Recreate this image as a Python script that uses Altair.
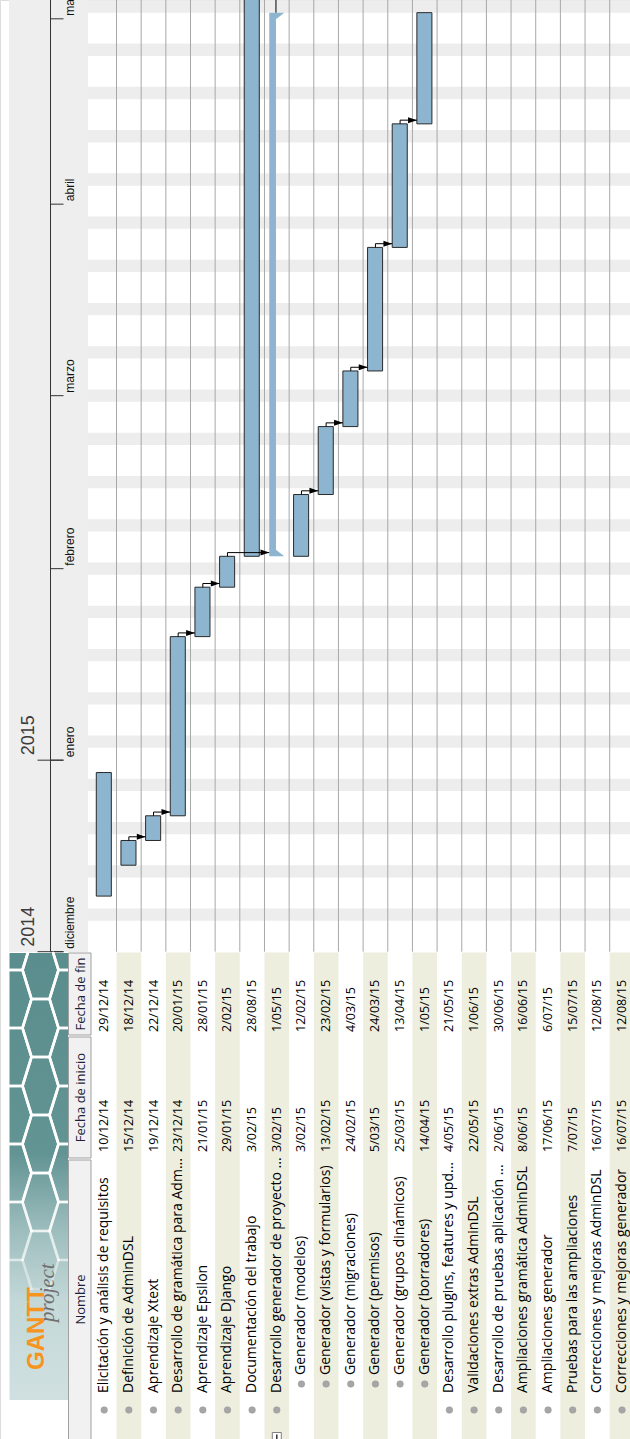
import altair as alt
import pandas as pd
from datetime import datetime

# ---------------- data ----------------
task_names = [
    "Elicitación y análisis de requisitos",
    "Definición de AdminDSL",
    "Aprendizaje Xtext",
    "Desarrollo de gramática para Adm...",
    "Aprendizaje Epsilon",
    "Aprendizaje Django",
    "Documentación del trabajo",
    "Desarrollo generador de proyecto ...",
    "Generador (modelos)",
    "Generador (vistas y formularios)",
    "Generador (migraciones)",
    "Generador (permisos)",
    "Generador (grupos dinámicos)",
    "Generador (borradores)",
    "Desarrollo plugins, features y upd...",
    "Validaciones extras AdminDSL",
    "Desarrollo de pruebas aplicación ...",
    "Ampliaciones gramática AdminDSL",
    "Ampliaciones generador",
    "Pruebas para las ampliaciones",
    "Correcciones y mejoras AdminDSL",
    "Correcciones y mejoras generador",
]
start_dates = ["10/12/14", "15/12/14", "19/12/14", "23/12/14", "21/01/15", "29/01/15",
               "3/02/15", "3/02/15", "3/02/15", "13/02/15", "24/02/15", "5/03/15",
               "25/03/15", "14/04/15", "4/05/15", "22/05/15", "2/06/15", "8/06/15",
               "17/06/15", "7/07/15", "16/07/15", "16/07/15"]
end_dates = ["29/12/14", "18/12/14", "22/12/14", "20/01/15", "28/01/15", "2/02/15",
             "28/08/15", "1/05/15", "12/02/15", "23/02/15", "4/03/15", "24/03/15",
             "13/04/15", "1/05/15", "21/05/15", "1/06/15", "30/06/15", "16/06/15",
             "6/07/15", "15/07/15", "12/08/15", "12/08/15"]
task_levels = [0, 0, 0, 0, 0, 0, 0, 0, 1, 1, 1, 1, 1, 1, 0, 0, 0, 0, 0, 0, 0, 0]
summary_tasks = [8]
dependencies = [(2, 3), (3, 4), (4, 5), (5, 6), (6, 8), (9, 10), (10, 11),
                (11, 12), (12, 13), (13, 14), (8, 15)]
month_labels = ["diciembre", "enero", "febrero", "marzo", "abril", "mayo"]
month_firsts = ["1/12/14", "1/01/15", "1/02/15", "1/03/15", "1/04/15", "1/05/15"]
year_labels = ["2014", "2015"]
year_firsts = ["1/12/14", "1/01/15"]
header_labels = ["Nombre", "Fecha de inicio", "Fecha de fin"]

# ---------------- layout constants ----------------
W, H = 630, 1439
ROW_X0, ROW_W = 91.85, 24.66          # first task column, column width (px)
Y_DEC1, PX_DAY = 951.7, 6.178         # 1 Dec 2014 position, px per day
ORIGIN = datetime(2014, 12, 1)
XDOM = [-ROW_X0 / ROW_W, (W - ROW_X0) / ROW_W]
YDOM = [(Y_DEC1 - H) / PX_DAY, Y_DEC1 / PX_DAY]
xs = alt.Scale(domain=XDOM, nice=False, zero=False)
ys = alt.Scale(domain=YDOM, nice=False, zero=False)

BAR = "#8db5cf"
FONT = "Open Sans"


def day(s):
    return (datetime.strptime(s, "%d/%m/%y") - ORIGIN).days


rows = pd.DataFrame({"name": task_names, "start": start_dates, "end": end_dates,
                     "level": task_levels})
rows["idx"] = range(1, len(rows) + 1)
rows["u0"] = rows["idx"] - 1
rows["uc"] = rows["u0"] + 0.5
rows["d0"] = rows["start"].map(day)
rows["d1"] = rows["end"].map(day) + 1
rows["summary"] = rows["idx"].isin(summary_tasks)

# only bars that begin inside the visible time window
bars = rows[(~rows["summary"]) & (rows["d0"] < YDOM[1] - 0.3)].copy()
bars["bx"] = bars["u0"] + 0.18
bars["bx2"] = bars["u0"] + 0.79

summ = rows[rows["summary"]].copy()
summ["bx"] = summ["u0"] + 0.195
summ["bx2"] = summ["u0"] + 0.466

# dependency connectors
lines = []
heads = []
r = rows.set_index("idx")
for k, (s, t) in enumerate(dependencies):
    src, tgt = r.loc[s], r.loc[t]
    sx = src["u0"] + 0.466 if src["summary"] else src["uc"]
    tx = tgt["u0"] + (0.195 if tgt["summary"] else 0.18)
    yh = tgt["d0"] + 0.6
    lines += [{"dep": k, "seq": 0, "x": sx, "y": src["d1"]},
              {"dep": k, "seq": 1, "x": sx, "y": yh},
              {"dep": k, "seq": 2, "x": tx, "y": yh}]
    if yh < YDOM[1]:
        heads.append({"x": tx, "y": yh})
lines = pd.DataFrame(lines)
heads = pd.DataFrame(heads)

weekends = pd.DataFrame({"d": [(d - pd.Timestamp(ORIGIN)).days for d in
                               pd.date_range("2014-12-06", "2015-05-02", freq="7D")]})
weekends["d2"] = weekends["d"] + 2

grid = pd.DataFrame({"u": list(range(1, len(task_names)))})
months = pd.DataFrame({"label": month_labels, "d": [day(s) for s in month_firsts]})
months["dl"] = months["d"] + 3 / PX_DAY
years = pd.DataFrame({"label": year_labels, "d": [day(s) for s in year_firsts]})
years["dl"] = years["d"] + 5 / PX_DAY

beige = rows[rows["idx"] % 2 == 0]
one = pd.DataFrame({"a": [0]})

# ---- decorative honeycomb of the logo (pixel geometry -> chart units) ----
LX0, LX1, LY0, LY1 = 9.5, 68.0, 953.0, 1400.0


def clip_seg(x0, y0, x1, y1):
    t0, t1 = 0.0, 1.0
    dx, dy = x1 - x0, y1 - y0
    for p, q in ((-dx, x0 - LX0), (dx, LX1 - x0), (-dy, y0 - LY0), (dy, LY1 - y0)):
        if p == 0:
            if q < 0:
                return None
        else:
            t = q / p
            if p < 0:
                t0 = max(t0, t)
            else:
                t1 = min(t1, t)
    if t0 >= t1:
        return None
    return (x0 + t0 * dx, y0 + t0 * dy, x0 + t1 * dx, y0 + t1 * dy)


hex_a, hex_b = 18.0, 29.0
segs = []
for i in range(-1, 5):
    for j in range(-1, 10):
        cx = LX0 + 4 + 1.5 * hex_a * i
        cy = LY0 - 12 + 2 * hex_b * j + (hex_b if i % 2 else 0)
        pts = [(cx + hex_a, cy), (cx + hex_a / 2, cy + hex_b), (cx - hex_a / 2, cy + hex_b),
               (cx - hex_a, cy), (cx - hex_a / 2, cy - hex_b), (cx + hex_a / 2, cy - hex_b)]
        for m in range(6):
            p0, p1 = pts[m], pts[(m + 1) % 6]
            c = clip_seg(p0[0], p0[1], p1[0], p1[1])
            if c is None:
                continue
            ym = (c[1] + c[3]) / 2
            op = 1.0 if ym < 1170 else max(0.0, 1.0 - (ym - 1170) / 140)
            if op <= 0:
                continue
            segs.append({"x": (c[0] - ROW_X0) / ROW_W, "x2": (c[2] - ROW_X0) / ROW_W,
                         "y": (Y_DEC1 - c[1]) / PX_DAY, "y2": (Y_DEC1 - c[3]) / PX_DAY,
                         "op": op})
segs = pd.DataFrame(segs)

X = lambda f: alt.X(f, type="quantitative", scale=xs, axis=None)
Y = lambda f: alt.Y(f, type="quantitative", scale=ys, axis=None)

layers = []

# timeline header background
layers.append(alt.Chart(one).mark_rect(color="#eeeeee").encode(
    x=alt.value(9), x2=alt.value(88), y=alt.value(0), y2=alt.value(952)))
# weekend bands
layers.append(alt.Chart(weekends).mark_rect(color="#ededed", clip=True).encode(
    x=alt.value(88), x2=alt.value(W), y=Y("d"), y2="d2"))
# column grid lines
layers.append(alt.Chart(grid).mark_rule(color="#a8a8a8", strokeWidth=1).encode(
    x=X("u"), y=alt.value(0), y2=alt.value(Y_DEC1)))
# task bars
layers.append(alt.Chart(bars).mark_rect(fill=BAR, stroke="#2a2a2a", strokeWidth=1,
                                        clip=True).encode(
    x=X("bx"), x2="bx2", y=Y("d0"), y2="d1"))
# summary task
layers.append(alt.Chart(summ).mark_rect(fill=BAR, clip=True).encode(
    x=X("bx"), x2="bx2", y=Y("d0"), y2="d1"))
layers.append(alt.Chart(summ).mark_point(shape="M0,0L0,-0.8L1,0Z", size=276, filled=True,
                                         color=BAR, opacity=1, strokeWidth=0,
                                         clip=True).encode(
    x=X("bx2"), y=Y("d0")))
layers.append(alt.Chart(summ).mark_point(shape="M0,0L0,0.8L1,0Z", size=276, filled=True,
                                         color=BAR, opacity=1, strokeWidth=0,
                                         clip=True).encode(
    x=X("bx2"), y=Y("d1")))
# dependencies
layers.append(alt.Chart(lines).mark_line(color="#000000", strokeWidth=1, clip=True).encode(
    x=X("x"), y=Y("y"), detail="dep:N", order="seq:Q"))
layers.append(alt.Chart(heads).mark_point(shape="M-2.2,-0.75L0,0L-2.2,0.75Z", size=64,
                                          filled=True, color="#000000", opacity=1,
                                          strokeWidth=0, clip=True).encode(
    x=X("x"), y=Y("y")))
# timeline scale
layers.append(alt.Chart(one).mark_rule(color="#333333", strokeWidth=1).encode(
    x=alt.value(50.5), y=alt.value(0), y2=alt.value(Y_DEC1)))
layers.append(alt.Chart(years).mark_rule(color="#333333", strokeWidth=1).encode(
    x=alt.value(37.5), x2=alt.value(63.5), y=Y("d")))
layers.append(alt.Chart(months).mark_rule(color="#333333", strokeWidth=1).encode(
    x=alt.value(50.5), x2=alt.value(63.5), y=Y("d")))
layers.append(alt.Chart(years).mark_text(angle=270, align="left", baseline="middle",
                                         font="Liberation Sans", fontSize=18,
                                         color="#3c3c3c").encode(
    x=alt.value(28.5), y=Y("dl"), text="label:N"))
layers.append(alt.Chart(months).mark_text(angle=270, align="left", baseline="middle",
                                          font="Liberation Sans", fontSize=12,
                                          color="#111111").encode(
    x=alt.value(69.5), y=Y("dl"), text="label:N"))

# ---------------- table ----------------
layers.append(alt.Chart(beige).mark_rect(color="#eeeedf").encode(
    x=X("u0"), x2=alt.X2("idx"), y=alt.value(952.5), y2=alt.value(H)))
# logo
logo_grad = alt.Gradient(gradient="linear", x1=0, x2=0, y1=0, y2=1,
                         stops=[alt.GradientStop(color="#5a8d8d", offset=0),
                                alt.GradientStop(color="#639494", offset=0.45),
                                alt.GradientStop(color="#9dbdbd", offset=0.62),
                                alt.GradientStop(color="#c4d8d8", offset=0.78),
                                alt.GradientStop(color="#d0e0e0", offset=1)])
layers.append(alt.Chart(one).mark_rect(color=logo_grad).encode(
    x=alt.value(LX0), x2=alt.value(LX1), y=alt.value(LY0), y2=alt.value(LY1)))
layers.append(alt.Chart(segs).mark_rule(color="#ffffff", strokeWidth=2.6,
                                        strokeCap="round").encode(
    x=X("x"), x2="x2", y=Y("y"), y2="y2",
    opacity=alt.Opacity("op:Q", scale=None)))
layers.append(alt.Chart(one).mark_text(angle=270, align="left", baseline="alphabetic",
                                       font="Liberation Sans", fontSize=24,
                                       fontWeight="bold", color="#f7941e").encode(
    x=alt.value(44), y=alt.value(1370), text=alt.value("GANTT")))
layers.append(alt.Chart(one).mark_text(angle=270, align="left", baseline="alphabetic",
                                       font="Liberation Serif", fontSize=21,
                                       fontStyle="italic", color="#6f6f6f").encode(
    x=alt.value(54), y=alt.value(1322), text=alt.value("project")))
# header cells
hdr = pd.DataFrame({"label": header_labels,
                    "top": [1160, 1037, 953], "bottom": [1445, 1158, 1035]})
hdr["mid"] = (hdr["top"] + hdr["bottom"].clip(upper=H)) / 2
for _, h in hdr.iterrows():
    layers.append(alt.Chart(one).mark_rect(fill="#f1f1f1", stroke="#a0a0a0",
                                           strokeWidth=1).encode(
        x=alt.value(68.5), x2=alt.value(91), y=alt.value(h["top"]),
        y2=alt.value(h["bottom"])))
    layers.append(alt.Chart(one).mark_text(angle=270, align="center", baseline="middle",
                                           font=FONT, fontSize=13,
                                           color="#1e1e3c").encode(
        x=alt.value(80.5), y=alt.value(h["mid"]), text=alt.value(h["label"])))

top = rows[rows["level"] == 0]
sub = rows[rows["level"] == 1]
for part, ybul, ytxt in [(top, 1410, 1393), (sub, 1384, 1375)]:
    layers.append(alt.Chart(part).mark_circle(size=44, color="#a6a6a6", opacity=1,
                                              stroke="#999999", strokeWidth=0.5).encode(
        x=X("uc"), y=alt.value(ybul)))
    layers.append(alt.Chart(part).mark_text(angle=270, align="left", baseline="middle",
                                            font=FONT, fontSize=14,
                                            color="#000000").encode(
        x=X("uc"), y=alt.value(ytxt), text="name:N"))
layers.append(alt.Chart(rows).mark_text(angle=270, align="left", baseline="middle",
                                        font=FONT, fontSize=12.5, color="#000000").encode(
    x=X("uc"), y=alt.value(1152), text="start:N"))
layers.append(alt.Chart(rows).mark_text(angle=270, align="left", baseline="middle",
                                        font=FONT, fontSize=12.5, color="#000000").encode(
    x=X("uc"), y=alt.value(1032), text="end:N"))
# collapse icon of the summary task
layers.append(alt.Chart(summ).mark_square(size=81, fill="#ffffff", stroke="#808080",
                                          strokeWidth=1, opacity=1).encode(
    x=X("uc"), y=alt.value(1437)))
layers.append(alt.Chart(summ).mark_rule(color="#303030", strokeWidth=1.5).encode(
    x=X("uc"), y=alt.value(1434.5), y2=alt.value(1440)))

chart = alt.layer(*layers).properties(
    width=W, height=H, padding=0,
    autosize=alt.AutoSizeParams(type="none"),
).configure_view(stroke=None).configure(background="#ffffff")

chart.save("out.html", embed_options={"renderer": "svg", "actions": False})
